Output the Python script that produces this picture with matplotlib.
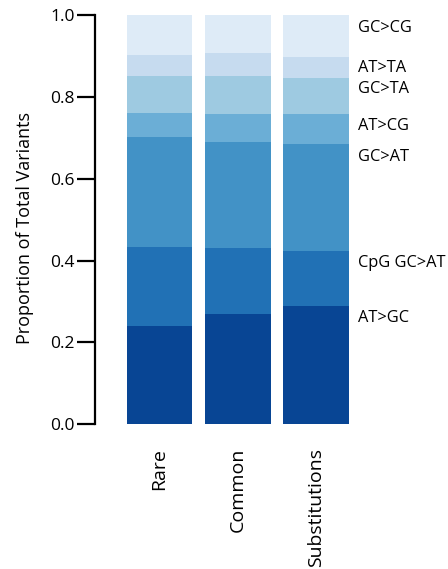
import matplotlib

matplotlib.use("Agg")
import matplotlib.pyplot as plt
import matplotlib.transforms as mtransforms
import numpy as np

plt.rcParams["font.family"] = ["Open Sans", "DejaVu Sans"]

groups = ["Rare", "Common", "Substitutions"]
classes = ["AT>GC", "CpG GC>AT", "GC>AT", "AT>CG", "GC>TA", "AT>TA", "GC>CG"]
# proportion of each class within a group, bottom to top
rare = [0.239, 0.195, 0.267, 0.060, 0.090, 0.051, 0.098]
common = [0.269, 0.162, 0.259, 0.068, 0.093, 0.055, 0.094]
substitutions = [0.289, 0.134, 0.262, 0.073, 0.089, 0.051, 0.102]
colors = ["#084594", "#2171b5", "#4292c6", "#6baed6", "#9ecae1", "#c6dbef", "#deebf7"]
label_y = [0.259, 0.394, 0.653, 0.729, 0.819, 0.870, 0.968]

values = np.array([rare, common, substitutions])

fig = plt.figure(figsize=(4.48, 5.69), dpi=100)
ax = fig.add_axes([95 / 448, 1 - 424.3 / 569, 254 / 448, 409.3 / 569])

x = np.arange(len(groups))
bottom = np.zeros(len(groups))
for i, name in enumerate(classes):
    ax.bar(x, values[:, i], bottom=bottom, width=0.84, color=colors[i],
           edgecolor="none", label=name)
    bottom += values[:, i]

ax.set_xlim(-0.824, 2.42)
ax.set_ylim(0, 1.0)
ax.set_yticks([0, 0.2, 0.4, 0.6, 0.8, 1.0])
ax.set_yticklabels(["0.0", "0.2", "0.4", "0.6", "0.8", "1.0"])
ax.set_xticks(x)
ax.set_xticklabels(groups, rotation=90, va="top", ha="center")

for side in ["top", "right", "bottom"]:
    ax.spines[side].set_visible(False)
ax.spines["left"].set_linewidth(1.6)
ax.tick_params(axis="y", length=13, width=1.6, pad=1.5, labelsize=12.5)
ax.tick_params(axis="x", length=0, pad=17, labelsize=14)

ax.set_ylabel("Proportion of Total Variants", fontsize=13)
ax.yaxis.set_label_coords(-0.24, 0.48)

trans = mtransforms.blended_transform_factory(ax.transAxes, ax.transData)
for name, y in zip(classes, label_y):
    ax.text(1.035, y, name, transform=trans, ha="left", va="center",
            fontsize=11.8, clip_on=False)

fig.savefig("out.png", dpi=100)
